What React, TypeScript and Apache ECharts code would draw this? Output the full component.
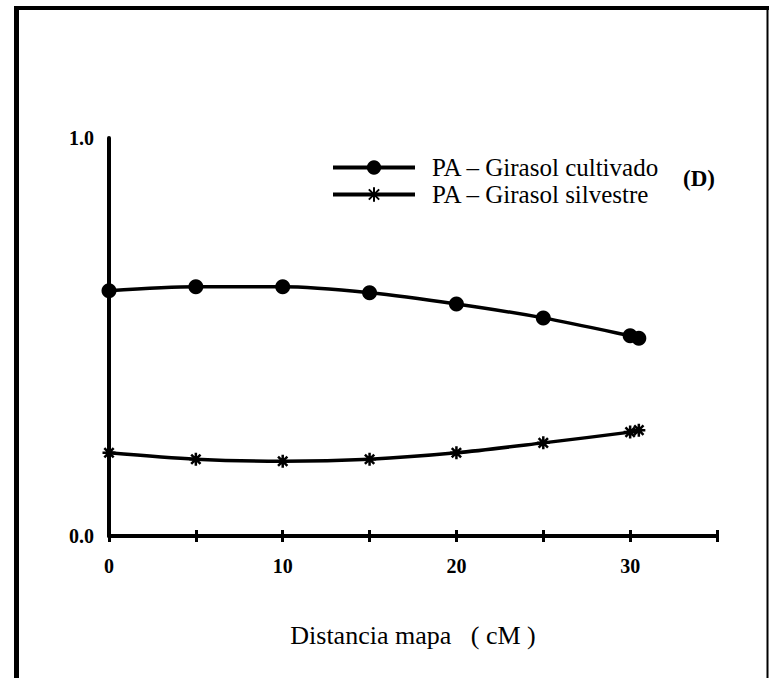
import React, { useEffect, useRef } from "react";
import * as echarts from "echarts";

const distances = [0, 5, 10, 15, 20, 25, 30, 30.5];
const cultivado = [0.616, 0.626, 0.626, 0.611, 0.583, 0.548, 0.503, 0.497];
const silvestre = [0.209, 0.193, 0.188, 0.193, 0.209, 0.234, 0.261, 0.266];
const seriesNames = ["PA – Girasol cultivado", "PA – Girasol silvestre"];
const xTickLabels = [0, 10, 20, 30];
const yTickLabels = [0, 1];

const SERIF = "'Liberation Serif', 'Times New Roman', serif";
const STAR = "path://M0,-6L0,6M-6,0L6,0M-4.3,-4.3L4.3,4.3M-4.3,4.3L4.3,-4.3";

export default function App() {
  const ref = useRef<HTMLDivElement>(null);
  useEffect(() => {
    if (!ref.current) return;
    const chart = echarts.init(ref.current, null, { renderer: "svg" });
    const pairs = (ys: number[]) => distances.map((x, i) => [x, ys[i]]);
    chart.setOption({
      animation: false,
      backgroundColor: "#ffffff",
      grid: { left: 109, right: 52, top: 138, bottom: 142 },
      legend: {
        orient: "vertical",
        left: 326,
        top: 150,
        itemWidth: 82,
        itemHeight: 18,
        itemGap: 2,
        selectedMode: false,
        lineStyle: { width: 4 },
        textStyle: { fontFamily: SERIF, fontSize: 25, color: "#000", padding: [0, 0, 0, 12] },
        data: seriesNames,
      },
      xAxis: [
        {
          type: "value",
          min: 0,
          max: 35,
          interval: 5,
          splitLine: { show: false },
          axisLine: { show: true, onZero: false, lineStyle: { color: "#000", width: 4 } },
          axisTick: { show: true, inside: false, length: 6, lineStyle: { color: "#000", width: 3 } },
          axisLabel: {
            margin: 20,
            fontFamily: SERIF,
            fontWeight: "bold",
            fontSize: 20,
            color: "#000",
            formatter: (v: number) => (xTickLabels.includes(v) ? String(v) : ""),
          },
          name: "Distancia mapa   ( cM )",
          nameLocation: "middle",
          nameGap: 86,
          nameTextStyle: { fontFamily: SERIF, fontSize: 26, color: "#000" },
        },
        {
          type: "value",
          position: "bottom",
          min: 0,
          max: 35,
          interval: 5,
          splitLine: { show: false },
          axisLine: { show: false, onZero: false },
          axisTick: { show: true, inside: true, length: 6, lineStyle: { color: "#000", width: 3 } },
          axisLabel: { show: false },
        },
      ],
      yAxis: {
        type: "value",
        min: 0,
        max: 1,
        interval: 1,
        splitLine: { show: false },
        axisLine: { show: true, onZero: false, lineStyle: { color: "#000", width: 4 } },
        axisTick: { show: false },
        axisLabel: {
          margin: 15,
          fontFamily: SERIF,
          fontWeight: "bold",
          fontSize: 20,
          color: "#000",
          formatter: (v: number) => (yTickLabels.includes(v) ? v.toFixed(1) : ""),
        },
      },
      graphic: [
        { type: "line", shape: { x1: 16.5, y1: 6, x2: 16.5, y2: 700 }, style: { stroke: "#000", lineWidth: 5 } },
        { type: "line", shape: { x1: 14, y1: 8, x2: 769, y2: 8 }, style: { stroke: "#000", lineWidth: 4 } },
        { type: "line", shape: { x1: 767.5, y1: 6, x2: 767.5, y2: 700 }, style: { stroke: "#000", lineWidth: 2 } },
        {
          type: "text",
          left: 683,
          top: 167,
          style: { text: "(D)", font: `bold 23px ${SERIF}`, fill: "#000" },
        },
      ],
      series: [
        {
          name: seriesNames[0],
          type: "line",
          data: pairs(cultivado),
          smooth: 0.3,
          symbol: "circle",
          symbolSize: 15,
          lineStyle: { color: "#000", width: 3.5 },
          itemStyle: { color: "#000" },
          z: 3,
        },
        {
          name: seriesNames[1],
          type: "line",
          data: pairs(silvestre),
          smooth: 0.3,
          symbol: STAR,
          symbolSize: 13,
          lineStyle: { color: "#000", width: 3.5 },
          itemStyle: { color: "#000", borderColor: "#000", borderWidth: 2.5 },
          z: 3,
        },
      ],
    });
    return () => chart.dispose();
  }, []);
  return (
    <div
      ref={ref}
      style={{ position: "fixed", left: 0, top: 0, width: 769, height: 678, background: "#fff" }}
    />
  );
}
